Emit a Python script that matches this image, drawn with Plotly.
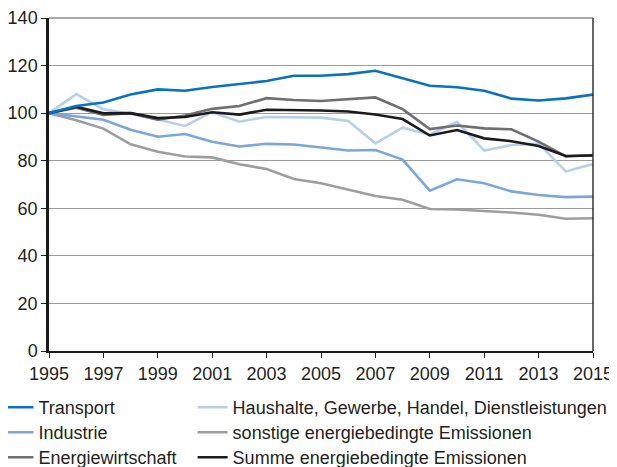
import plotly.graph_objects as go

years = list(range(1995, 2016))

transport = [100, 103, 104.5, 107.8, 110, 109.4, 111, 112.3, 113.5, 115.7, 115.7, 116.4, 117.8, 114.7, 111.5, 110.9, 109.4, 106.1, 105.3, 106.2, 107.8]
industrie = [100, 98.5, 97.2, 93, 90.1, 91.2, 88, 86, 87.1, 86.8, 85.6, 84.3, 84.5, 80.5, 67.4, 72.2, 70.5, 67.1, 65.6, 64.7, 64.9]
energiewirtschaft = [100, 102.3, 99.2, 100, 97.2, 99, 101.8, 103, 106.3, 105.5, 105.1, 105.8, 106.6, 101.7, 93.3, 94.8, 93.6, 93.2, 88, 81.8, 82.4]
haushalte = [100, 108, 101.6, 99.7, 97.3, 94.6, 100.4, 96.4, 98.4, 98.3, 98.1, 96.7, 87.3, 93.9, 90.9, 96.3, 84.3, 86.6, 87.2, 75.5, 78.6]
sonstige = [100, 97, 93.5, 86.9, 83.8, 81.8, 81.4, 78.5, 76.5, 72.3, 70.5, 68, 65.2, 63.6, 59.7, 59.5, 59, 58.2, 57.3, 55.6, 55.8]
summe = [100, 102.7, 99.9, 100, 97.9, 98.4, 100.4, 99.4, 101.4, 101.4, 101.1, 100.7, 99.4, 97.5, 90.6, 92.9, 89.4, 88.2, 86.2, 82, 82.2]

names = ["Transport", "Industrie", "Energiewirtschaft",
         "Haushalte, Gewerbe, Handel, Dienstleistungen",
         "sonstige energiebedingte Emissionen",
         "Summe energiebedingte Emissionen"]
values = [transport, industrie, energiewirtschaft, haushalte, sonstige, summe]
colors = ["#0a72bd", "#7aa6dc", "#6f6f71", "#b7cfed", "#9d9d9f", "#1c1b1b"]

xticks = list(range(1995, 2016, 2))
yticks = list(range(0, 141, 20))

legend_ids = ["legend", "legend2", "legend3", "legend4", "legend5", "legend6"]
col_x = [-0.093, 0.264]
row_y = [-0.1141, -0.1892, -0.2643]

fig = go.Figure()
# draw order (back to front)
order = [4, 1, 3, 2, 5, 0]
for i in order:
    fig.add_trace(go.Scatter(x=years, y=values[i], mode="lines", name=names[i],
                             line=dict(color=colors[i], width=2.6),
                             legend=legend_ids[i]))

font = "Liberation Sans, Arial, Helvetica, sans-serif"
legends = {}
for i, lid in enumerate(legend_ids):
    legends[lid] = dict(x=col_x[i // 3], y=row_y[i % 3], xanchor="left", yanchor="top",
                        orientation="v", font=dict(size=18),
                        bgcolor="rgba(0,0,0,0)", itemwidth=30)

fig.update_layout(
    width=609, height=459,
    margin=dict(l=41, r=24, t=10, b=116, autoexpand=False),
    plot_bgcolor="white", paper_bgcolor="white",
    font=dict(family=font, size=18, color="#231f20"),
    showlegend=True,
    **legends,
)
fig.update_xaxes(range=[1995, 2015], tickvals=xticks, ticktext=[str(t) for t in xticks],
                 showgrid=False, showline=True, linecolor="#1a1a1a", linewidth=2,
                 ticks="outside", ticklen=5, tickcolor="#1a1a1a", tickwidth=1,
                 tickfont=dict(size=18), zeroline=False, automargin=False)
fig.update_yaxes(range=[0, 140], tickvals=yticks, showgrid=True, gridcolor="#9a9a9a",
                 gridwidth=1, showline=True, linecolor="#1a1a1a", linewidth=2.5,
                 ticks="outside", ticklen=5, tickcolor="#1a1a1a", tickwidth=1,
                 tickfont=dict(size=18), zeroline=False, automargin=False)
# right and top frame
fig.add_shape(type="line", xref="paper", yref="paper", x0=1, x1=1, y0=0, y1=1,
              line=dict(color="#333333", width=1.5))
fig.add_shape(type="line", xref="paper", yref="paper", x0=0, x1=1, y0=1, y1=1,
              line=dict(color="#555555", width=1.2))

fig.write_html("out.html")
